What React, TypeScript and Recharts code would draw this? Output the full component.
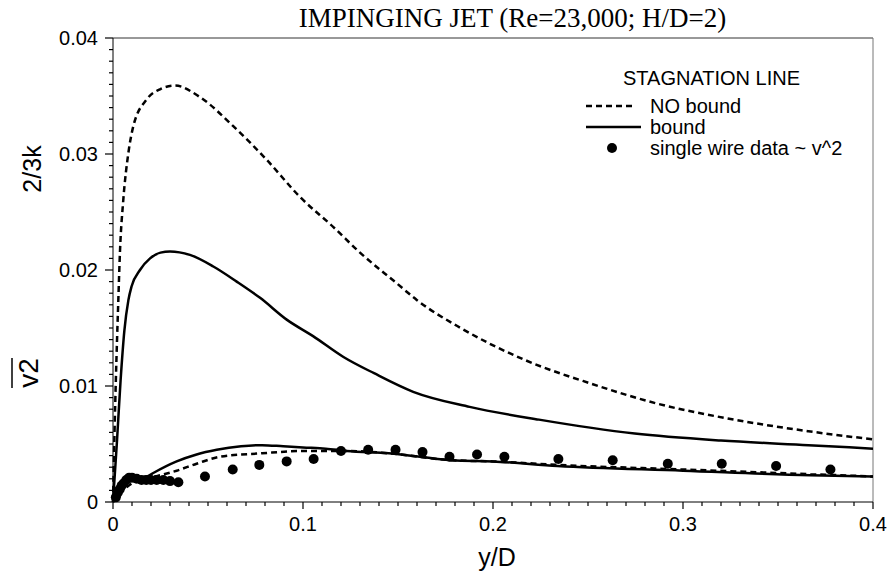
import {
  ComposedChart,
  Legend,
  Line,
  ReferenceLine,
  Scatter,
  XAxis,
  YAxis,
} from "recharts";

const SANS = 'Arial, "Liberation Sans", Helvetica, sans-serif';
const SERIF = '"Times New Roman", "Liberation Serif", Times, serif';

type Pt = { x: number; y: number };
const pts = (rows: number[][]): Pt[] => rows.map(([x, y]) => ({ x, y }));

// 2/3k on the stagnation line, no bound
const noBoundK = pts([
  [0, 0], [0.0008, 0.006], [0.0015, 0.0105], [0.0028, 0.0174], [0.0037, 0.0217],
  [0.0054, 0.026], [0.0081, 0.0301], [0.0107, 0.0324], [0.0177, 0.0347], [0.025, 0.0356],
  [0.0326, 0.0359], [0.0458, 0.0349], [0.0633, 0.0324], [0.0809, 0.0295], [0.0984, 0.0263],
  [0.116, 0.0237], [0.13, 0.0215], [0.149, 0.0189], [0.16, 0.0174], [0.183, 0.015],
  [0.2174, 0.0122], [0.2517, 0.0102], [0.286, 0.0085], [0.327, 0.0071], [0.366, 0.0061],
  [0.4, 0.0054],
]);

// 2/3k, bound
const boundK = pts([
  [0, 0], [0.002, 0.005], [0.004, 0.0105], [0.006, 0.0148], [0.0081, 0.0174],
  [0.0098, 0.0186], [0.0142, 0.02], [0.0195, 0.021], [0.025, 0.0215], [0.03, 0.0216],
  [0.0405, 0.0213], [0.0528, 0.0203], [0.0651, 0.019], [0.0774, 0.0176], [0.0916, 0.0157],
  [0.1053, 0.0143], [0.1213, 0.0125], [0.1374, 0.0111], [0.158, 0.0095], [0.1877, 0.0082],
  [0.2242, 0.0071], [0.2746, 0.0059], [0.32, 0.0053], [0.366, 0.0049], [0.4, 0.0046],
]);

// v2, no bound
const noBoundV2 = pts([
  [0, 0], [0.003, 0.0005], [0.006, 0.0011], [0.01, 0.0016], [0.015, 0.0019],
  [0.0247, 0.0023], [0.0335, 0.0027], [0.044, 0.0033], [0.0563, 0.0039], [0.0785, 0.0042],
  [0.1005, 0.0044], [0.123, 0.0044], [0.1452, 0.0042], [0.1784, 0.0036], [0.2, 0.0035],
  [0.234, 0.0032], [0.3005, 0.0028], [0.367, 0.0024], [0.4, 0.0022],
]);

// v2, bound
const boundV2 = pts([
  [0, 0], [0.002, 0.0008], [0.005, 0.0017], [0.009, 0.0022], [0.013, 0.0021],
  [0.018, 0.0022], [0.0212, 0.0025], [0.0335, 0.0035], [0.044, 0.0041], [0.0546, 0.0045],
  [0.0674, 0.0048], [0.0785, 0.0049], [0.0896, 0.0048], [0.1, 0.0047], [0.112, 0.0046],
  [0.123, 0.0044], [0.1452, 0.0042], [0.1784, 0.0036], [0.2, 0.0035], [0.234, 0.0031],
  [0.3, 0.0027], [0.367, 0.0023], [0.4, 0.0022],
]);

// single wire measurements ~ v^2
const wireData = pts([
  [0.0015, 0.0004], [0.0025, 0.0008], [0.0035, 0.0011], [0.0045, 0.0014], [0.0055, 0.0016],
  [0.007, 0.0019], [0.0085, 0.0021], [0.01, 0.0021], [0.0125, 0.002], [0.015, 0.0019],
  [0.0175, 0.0019], [0.02, 0.0019], [0.023, 0.0019], [0.0265, 0.0019], [0.03, 0.0018],
  [0.0344, 0.0017], [0.0484, 0.0022], [0.063, 0.0028], [0.077, 0.0032], [0.0914, 0.0035],
  [0.1056, 0.0037], [0.12, 0.0044], [0.1343, 0.0045], [0.1487, 0.0045], [0.1629, 0.0043],
  [0.1771, 0.0039], [0.1916, 0.0041], [0.206, 0.0039], [0.2344, 0.0037], [0.263, 0.0036],
  [0.292, 0.0033], [0.3204, 0.0033], [0.349, 0.0031], [0.3776, 0.0028],
]);

const X_MAX = 0.4;
const Y_MAX = 0.04;
const xMajorTicks = [0, 0.1, 0.2, 0.3, 0.4];
const yMajorTicks = [0, 0.01, 0.02, 0.03, 0.04];
// minor ticks: every 0.01 on x, every 0.001 on y (majors skipped)
const xMinorTicks = Array.from({ length: 40 }, (_, i) => i / 100).filter((v) => Math.round(v * 100) % 10 !== 0);
const yMinorTicks = Array.from({ length: 40 }, (_, i) => i / 1000).filter((v) => Math.round(v * 1000) % 10 !== 0);
const fmt = (v: number) => String(Math.round(v * 100) / 100);

// plot is 760 x 464 px, minor tick marks are 4 px long
const xMinorLen = (Y_MAX * 4) / 464;
const yMinorLen = (X_MAX * 4) / 760;

const legendItems = [
  { label: "NO bound", kind: "dash" },
  { label: "bound", kind: "solid" },
  { label: "single wire data ~ v^2", kind: "dot" },
];

const tickFont = { fontFamily: SANS, fontSize: 20, fill: "#000" };

function XTitle({ viewBox }: any) {
  return (
    <text x={viewBox.x + viewBox.width / 2 + 4} y={viewBox.y + 55} textAnchor="middle"
      dominantBaseline="central" fontFamily={SANS} fontSize={25} fill="#000">
      y/D
    </text>
  );
}

function YTitle({ viewBox }: any) {
  const x = viewBox.x;
  const y = viewBox.y;
  return (
    <g fontFamily={SANS} fill="#000">
      <text transform={`translate(${x + 32},${y + 131}) rotate(-90)`} textAnchor="middle"
        dominantBaseline="central" fontSize={25}>
        2/3k
      </text>
      <g transform={`translate(${x + 28},${y + 335}) rotate(-90)`}>
        <text textAnchor="middle" dominantBaseline="central" fontSize={28}>v2</text>
        <line x1={-15} x2={15} y1={-16} y2={-16} stroke="#000" strokeWidth={1.5} />
      </g>
    </g>
  );
}

function StagnationLegend() {
  return (
    <svg width={300} height={100} style={{ display: "block" }}>
      <text x={43} y={14} dominantBaseline="central" fontFamily={SANS} fontSize={20}>
        STAGNATION LINE
      </text>
      {legendItems.map((it, i) => {
        const y = 42 + i * 21;
        return (
          <g key={it.label}>
            {it.kind === "dot" ? (
              <circle cx={32} cy={y} r={5} fill="#000" />
            ) : (
              <line x1={6} x2={it.kind === "dash" ? 56 : 61} y1={y} y2={y} stroke="#000"
                strokeWidth={2.5} strokeDasharray={it.kind === "dash" ? "6 4" : undefined} />
            )}
            <text x={70} y={y} dominantBaseline="central" fontFamily={SANS} fontSize={20}>
              {it.label}
            </text>
          </g>
        );
      })}
    </svg>
  );
}

export default function App() {
  const line = { stroke: "#000", strokeWidth: 2.5, dot: false, type: "monotone" as const,
    isAnimationActive: false, legendType: "none" as const };
  const axisLine = { stroke: "#000" };
  const tickLine = { stroke: "#000", strokeWidth: 1.2 };
  return (
    <div style={{ position: "absolute", left: 0, top: 0, width: 890, height: 574, background: "#fff" }}>
      <div style={{ position: "absolute", left: 0, top: 5, width: 1025, textAlign: "center",
        fontFamily: SERIF, fontSize: 27, lineHeight: "27px", color: "#000", zIndex: 1 }}>
        IMPINGING JET (Re=23,000; H/D=2)
      </div>
      <ComposedChart width={890} height={574} margin={{ top: 38, right: 17, bottom: 0, left: 0 }}>
        <XAxis dataKey="x" type="number" domain={[0, X_MAX]} ticks={xMajorTicks} interval={0}
          height={72} tickSize={7} tickMargin={8} tickLine={tickLine} tick={tickFont}
          tickFormatter={fmt} axisLine={axisLine} label={<XTitle />} />
        <YAxis dataKey="y" type="number" domain={[0, Y_MAX]} ticks={yMajorTicks} interval={0}
          width={113} tickSize={8} tickMargin={7} tickLine={tickLine} tick={tickFont}
          tickFormatter={fmt} axisLine={axisLine} label={<YTitle />} />
        <ReferenceLine y={Y_MAX} stroke="#333" />
        <ReferenceLine x={X_MAX} stroke="#777" />
        {xMinorTicks.map((v) => (
          <ReferenceLine key={`xm${v}`} segment={[{ x: v, y: 0 }, { x: v, y: -xMinorLen }]}
            stroke="#000" strokeWidth={1.2} ifOverflow="visible" />
        ))}
        {yMinorTicks.map((v) => (
          <ReferenceLine key={`ym${v}`} segment={[{ x: -yMinorLen, y: v }, { x: 0, y: v }]}
            stroke="#000" strokeWidth={1.2} ifOverflow="visible" />
        ))}
        <Line data={noBoundK} dataKey="y" strokeDasharray="6 4" {...line} />
        <Line data={boundK} dataKey="y" {...line} />
        <Line data={noBoundV2} dataKey="y" strokeDasharray="6 4" {...line} />
        <Line data={boundV2} dataKey="y" {...line} />
        <Scatter data={wireData} dataKey="y" isAnimationActive={false} legendType="none"
          shape={(p: any) => <circle cx={p.cx} cy={p.cy} r={5} fill="#000" />} />
        <Legend layout="vertical" align="center" verticalAlign="middle"
          wrapperStyle={{ left: 580, top: 64, width: 300 }} content={() => <StagnationLegend />} />
      </ComposedChart>
    </div>
  );
}
